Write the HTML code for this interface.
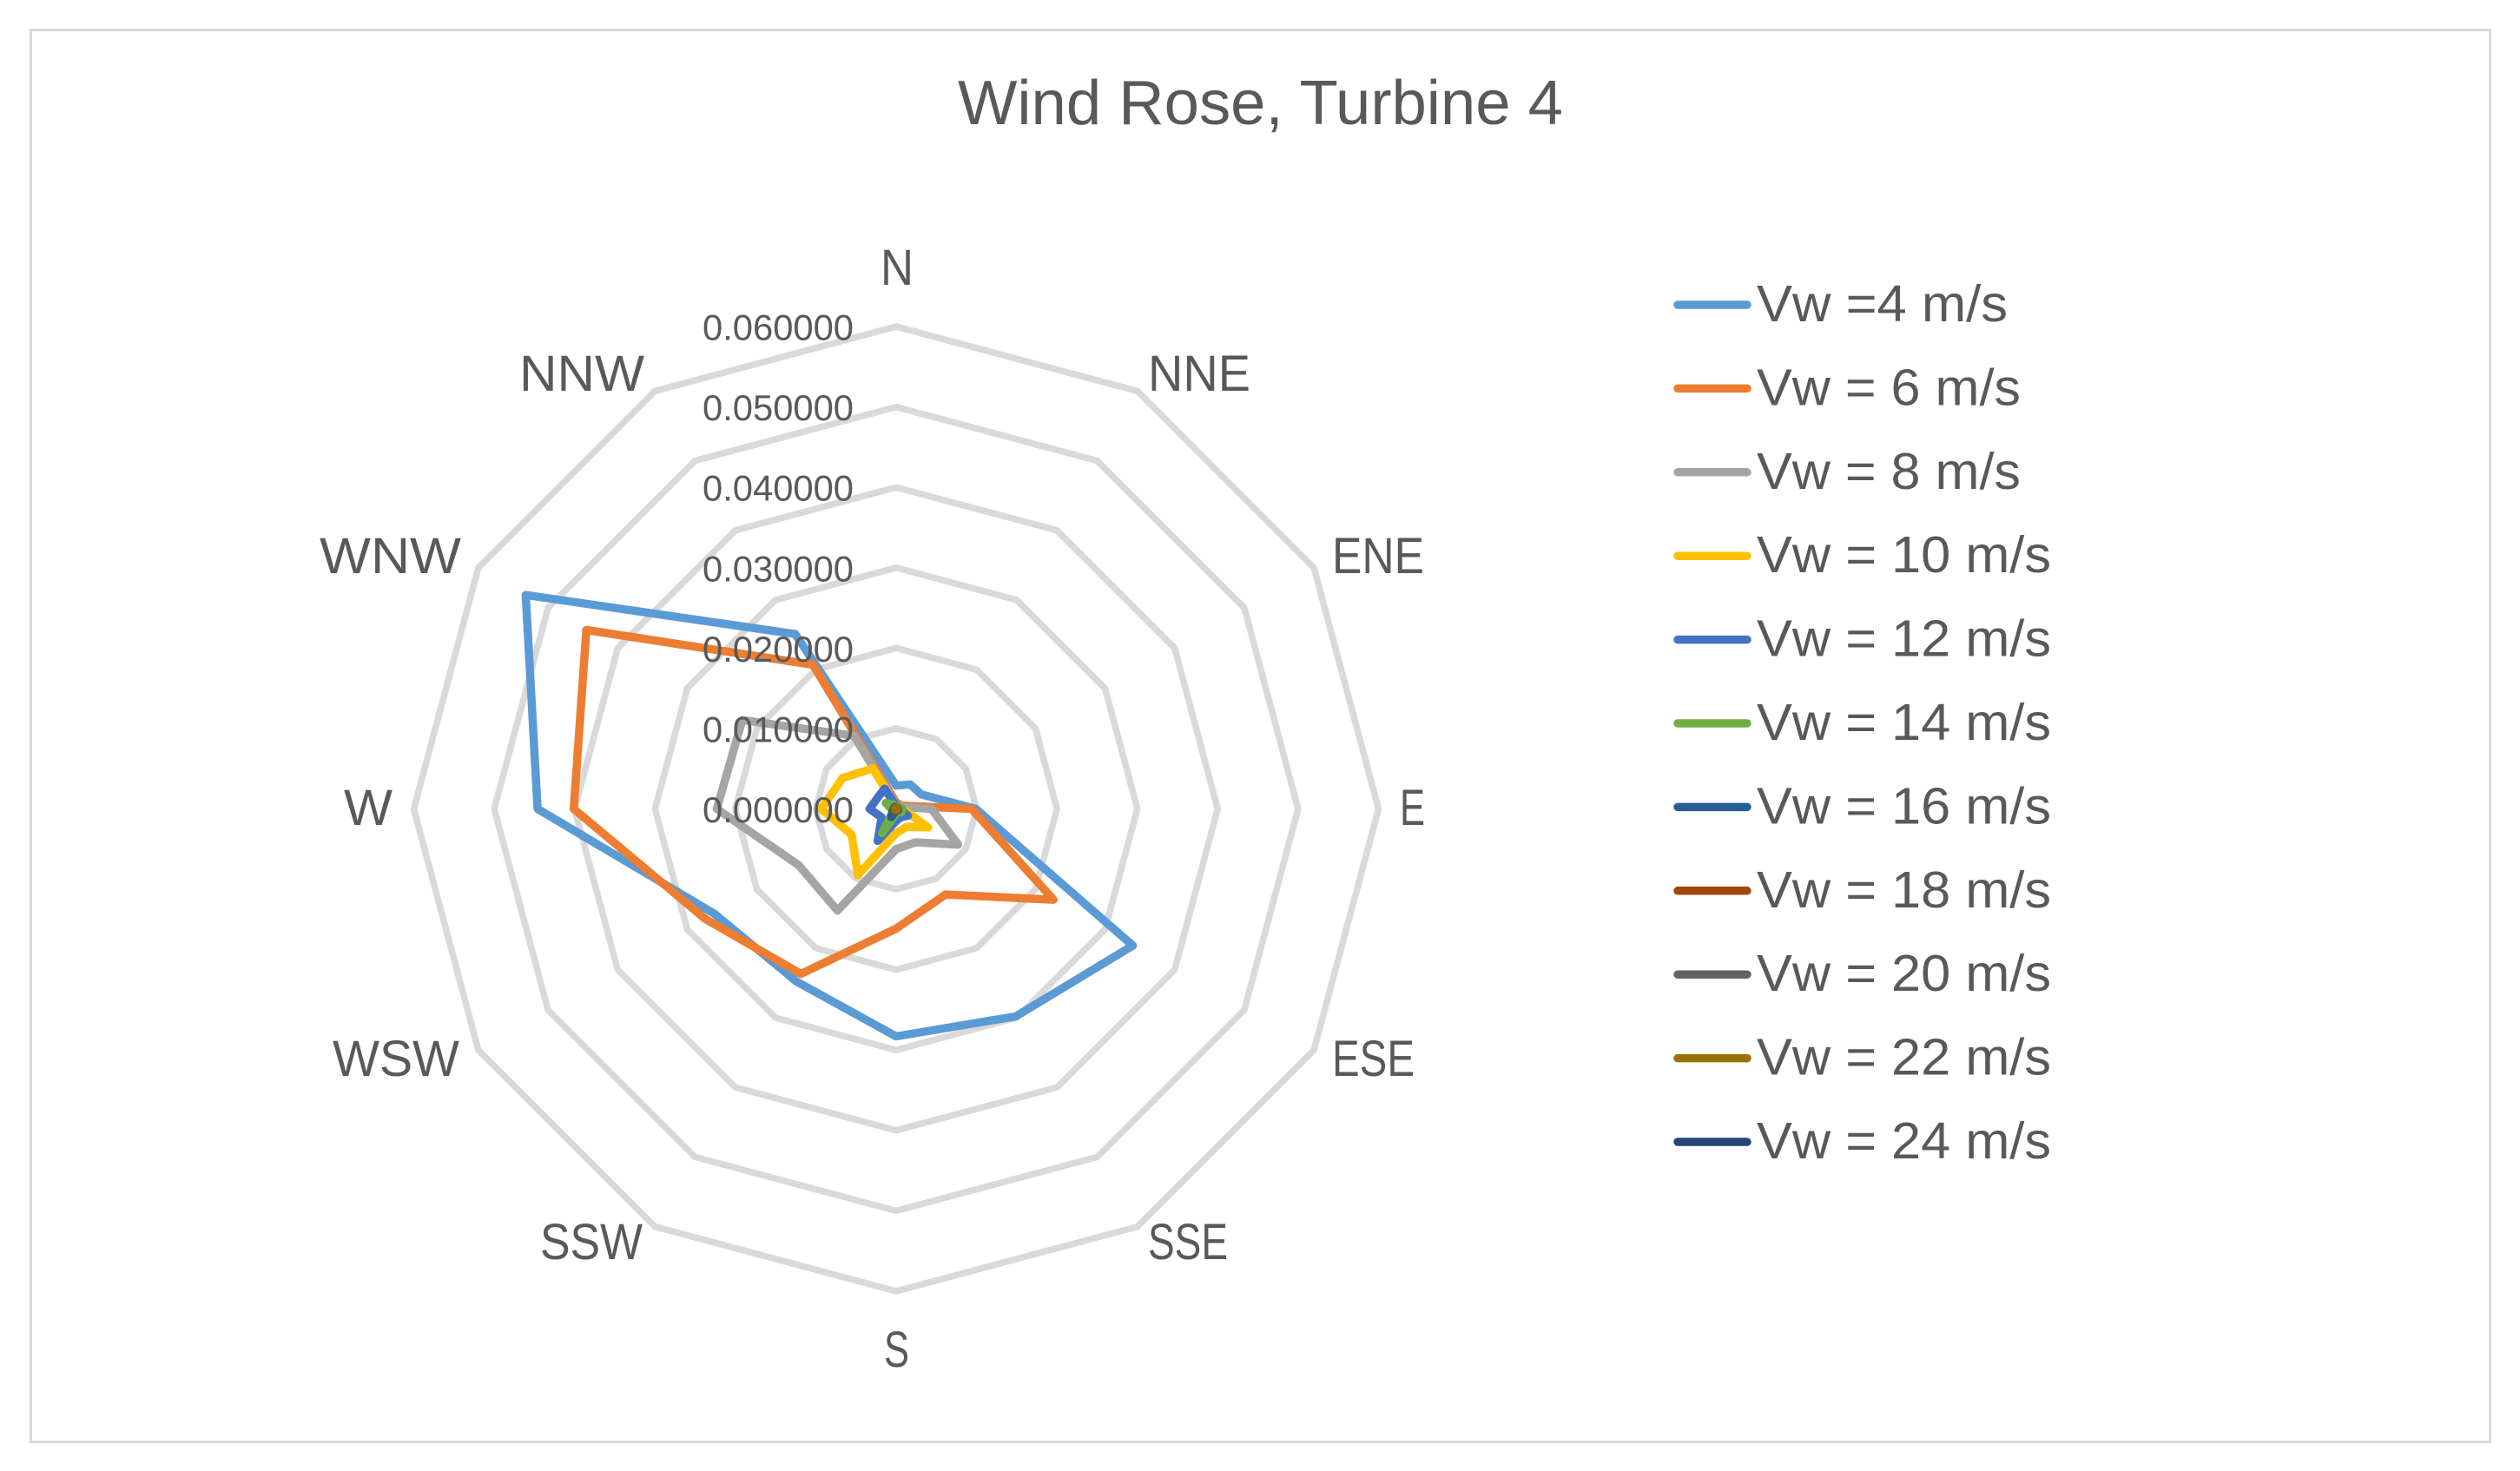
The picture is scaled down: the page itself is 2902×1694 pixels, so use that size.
<!DOCTYPE html>
<html lang="en">
<head>
<meta charset="utf-8">
<title>Wind Rose, Turbine 4</title>
<style>
  html, body { margin: 0; padding: 0; background: #fff; }
  svg { display: block; }
  text { font-family: "Liberation Sans", sans-serif; fill: #595959; }
</style>
</head>
<body>
<svg id="chart" xmlns="http://www.w3.org/2000/svg" width="2902" height="1694" viewBox="0 0 2902 1694">
  <rect x="35.5" y="34.5" width="2832" height="1626" fill="#fff" stroke="#d9d9d9" stroke-width="3"/>
  <text x="1103" y="143" font-size="72" textLength="697" lengthAdjust="spacingAndGlyphs">Wind Rose, Turbine 4</text>
  <g id="grid"></g>
  <g id="series"></g>
  <g id="ticks"></g>
  <g font-size="58">
    <text x="1014" y="328" textLength="38" lengthAdjust="spacingAndGlyphs">N</text>
    <text x="1322" y="450" textLength="118" lengthAdjust="spacingAndGlyphs">NNE</text>
    <text x="1534" y="660" textLength="106" lengthAdjust="spacingAndGlyphs">ENE</text>
    <text x="1612" y="950" textLength="29" lengthAdjust="spacingAndGlyphs">E</text>
    <text x="1534" y="1239" textLength="95" lengthAdjust="spacingAndGlyphs">ESE</text>
    <text x="1322" y="1450" textLength="92" lengthAdjust="spacingAndGlyphs">SSE</text>
    <text x="1018" y="1574" textLength="29" lengthAdjust="spacingAndGlyphs">S</text>
    <text x="622" y="1450" textLength="118" lengthAdjust="spacingAndGlyphs">SSW</text>
    <text x="383" y="1239" textLength="146" lengthAdjust="spacingAndGlyphs">WSW</text>
    <text x="396" y="950" textLength="56" lengthAdjust="spacingAndGlyphs">W</text>
    <text x="368" y="660" textLength="163" lengthAdjust="spacingAndGlyphs">WNW</text>
    <text x="598" y="450" textLength="144" lengthAdjust="spacingAndGlyphs">NNW</text>
  </g>
  <g id="legend"></g>
</svg>
<script>
// Directions run clockwise from N.
const categories = ["N", "NNE", "ENE", "E", "ESE", "SSE", "S", "SSW", "WSW", "W", "WNW", "NNW"];
const tickValues = [0, 0.01, 0.02, 0.03, 0.04, 0.05, 0.06];
const tickLabels = ["0.000000", "0.010000", "0.020000", "0.030000", "0.040000", "0.050000", "0.060000"];
const seriesNames = ["Vw =4 m/s", "Vw = 6 m/s", "Vw = 8 m/s", "Vw = 10 m/s", "Vw = 12 m/s", "Vw = 14 m/s", "Vw = 16 m/s", "Vw = 18 m/s", "Vw = 20 m/s", "Vw = 22 m/s", "Vw = 24 m/s"];
const seriesColors = ["#5b9bd5", "#ed7d31", "#a5a5a5", "#ffc000", "#4472c4", "#70ad47", "#255e91", "#9e480e", "#636363", "#997300", "#264478"];

const vw4 = [0.0029, 0.0035, 0.0036, 0.0099, 0.0340, 0.0298, 0.0283, 0.0248, 0.0261, 0.0446, 0.0532, 0.0251];
const vw6 = [0.0008, 0.0007, 0.0008, 0.0094, 0.0226, 0.0123, 0.0149, 0.0237, 0.0274, 0.0401, 0.0445, 0.0207];
const vw8 = [0.0005, 0.0004, 0.0005, 0.0044, 0.0089, 0.0048, 0.0050, 0.0146, 0.0140, 0.0223, 0.0221, 0.0105];
const vw10 = [0.0002, 0.0002, 0.0002, 0.0008, 0.0046, 0.0026, 0.0030, 0.0095, 0.0064, 0.0093, 0.0077, 0.0058];
const vw12 = [0.0004, 0.0003, 0.0003, 0.0005, 0.0017, 0.0012, 0.0015, 0.0046, 0.0021, 0.0033, 0.0027, 0.0029];
const vw14 = [0.0003, 0.0003, 0.0004, 0.0008, 0.0008, 0.0004, 0.0006, 0.0035, 0.0004, 0.0006, 0.0015, 0.0006];
const vw16 = [0.0001, 0.0001, 0.0002, 0.0002, 0.0003, 0.0002, 0.0002, 0.0012, 0.0005, 0.0003, 0.0003, 0.0003];
const vw18 = [0.0001, 0.0001, 0.0001, 0.0001, 0.0001, 0.0001, 0.0001, 0.0003, 0.0002, 0.0002, 0.0001, 0.0001];
const vw20 = [0.0001, 0.0001, 0.0001, 0.0001, 0.0001, 0.0001, 0.0001, 0.0001, 0.0001, 0.0001, 0.0001, 0.0001];
const vw22 = [0.0001, 0.0001, 0.0001, 0.0001, 0.0001, 0.0001, 0.0001, 0.0001, 0.0001, 0.0001, 0.0001, 0.0001];
const vw24 = [0.0000, 0.0000, 0.0000, 0.0000, 0.0000, 0.0000, 0.0000, 0.0000, 0.0000, 0.0000, 0.0000, 0.0000];
const seriesValues = [vw4, vw6, vw8, vw10, vw12, vw14, vw16, vw18, vw20, vw22, vw24];

const NS = "http://www.w3.org/2000/svg";
const cx = 1032, cy = 931.5, axisMax = 0.06, outerRadius = 555.5;

function radiusScale(v) { return (v / axisMax) * outerRadius; }
function angleScale(i) { return (i / categories.length) * 2 * Math.PI; }
function pointAt(i, v) {
  const r = radiusScale(v), a = angleScale(i);
  return [cx + r * Math.sin(a), cy - r * Math.cos(a)];
}
function polygonPoints(values) {
  return values.map(function (v, i) { return pointAt(i, v).map(function (n) { return n.toFixed(1); }).join(","); }).join(" ");
}

const gridGroup = document.getElementById("grid");
tickValues.forEach(function (t) {
  if (t === 0) return;
  const ring = document.createElementNS(NS, "polygon");
  
  
  ring.setAttribute("points", polygonPoints(categories.map(function () { return t; })));
  ring.setAttribute("fill", "none");
  ring.setAttribute("stroke", "#d9d9d9");
  ring.setAttribute("stroke-width", "7.5");
  ring.setAttribute("stroke-linejoin", "round");
  gridGroup.appendChild(ring);
});

const seriesGroup = document.getElementById("series");
// The Vw = 24 m/s trace sits underneath, hidden by the others at the centre.
const drawOrder = [10, 0, 1, 2, 3, 4, 5, 6, 7, 8, 9];
drawOrder.forEach(function (s) {
  const line = document.createElementNS(NS, "polygon");
  
  
  line.setAttribute("points", polygonPoints(seriesValues[s]));
  line.setAttribute("fill", "none");
  line.setAttribute("stroke", seriesColors[s]);
  line.setAttribute("stroke-width", "9.5");
  line.setAttribute("stroke-linejoin", "round");
  line.setAttribute("stroke-linecap", "round");
  seriesGroup.appendChild(line);
});

const ticksGroup = document.getElementById("ticks");
tickLabels.forEach(function (label, i) {
  const t = document.createElementNS(NS, "text");
  
  
  t.setAttribute("x", 809);
  t.setAttribute("y", (cy - radiusScale(tickValues[i]) + 15.5).toFixed(1));
  t.setAttribute("font-size", "42");
  t.setAttribute("textLength", "174");
  t.setAttribute("lengthAdjust", "spacingAndGlyphs");
  t.textContent = label;
  ticksGroup.appendChild(t);
});

const legendGroup = document.getElementById("legend");
const legendWidths = [289, 304, 304, 339, 339, 339, 339, 339, 339, 339, 339];
seriesNames.forEach(function (name, i) {
  const rowY = 351 + i * 96.4;
  const g = document.createElementNS(NS, "g");
  
  
  const key = document.createElementNS(NS, "line");
  
  
  key.setAttribute("x1", 1932);
  key.setAttribute("x2", 2012);
  key.setAttribute("y1", rowY);
  key.setAttribute("y2", rowY);
  key.setAttribute("stroke", seriesColors[i]);
  key.setAttribute("stroke-width", "9.5");
  key.setAttribute("stroke-linecap", "round");
  g.appendChild(key);
  const label = document.createElementNS(NS, "text");
  
  
  label.setAttribute("x", 2023);
  label.setAttribute("y", (rowY + 19).toFixed(1));
  label.setAttribute("font-size", "59");
  label.setAttribute("textLength", legendWidths[i]);
  label.setAttribute("lengthAdjust", "spacingAndGlyphs");
  label.textContent = name;
  g.appendChild(label);
  legendGroup.appendChild(g);
});
</script>
</body>
</html>
